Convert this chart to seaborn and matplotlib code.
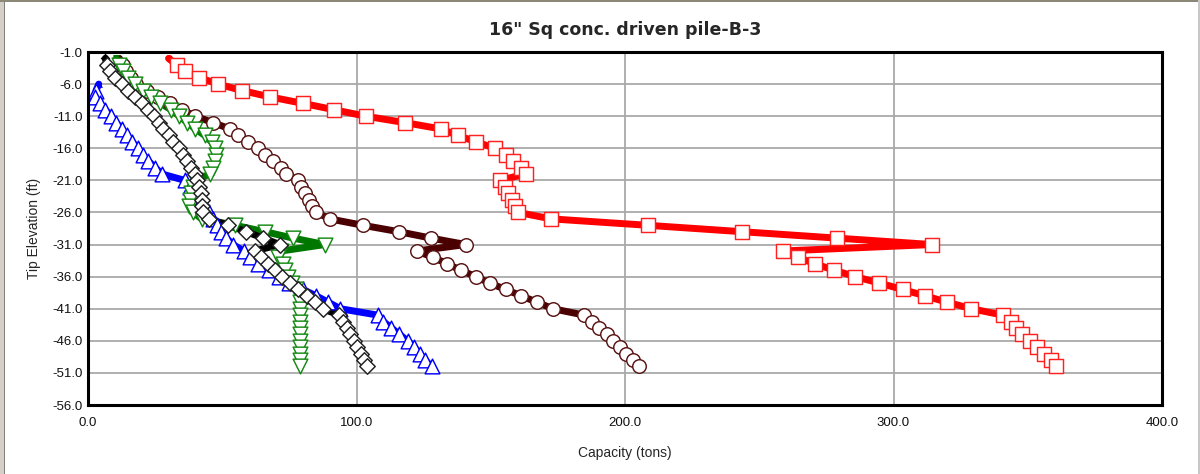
import matplotlib
matplotlib.use("Agg")
import matplotlib.pyplot as plt
import seaborn as sns
import pandas as pd
from matplotlib.patches import Rectangle

# ---------------- data ----------------
elev_ft = [-2, -3, -4, -5, -6, -7, -8, -9, -10, -11, -12, -13, -14, -15, -16,
           -17, -18, -19, -20, -21, -22, -23, -24, -25, -26, -27, -28, -29,
           -30, -31, -32, -33, -34, -35, -36, -37, -38, -39, -40, -41, -42,
           -43, -44, -45, -46, -47, -48, -49, -50]

red_cap = [30, 33, 36, 41.5, 48.5, 57.3, 67.8, 80, 91.7, 103.4, 118, 131.6,
           137.7, 144.6, 151.4, 155.8, 158.3, 161.4, 163, 153.3, 155.2, 156.4,
           158, 159, 160.2, 172.5, 208.4, 243.6, 279, 314.3, 259, 264.6, 270.7,
           277.9, 285.8, 294.7, 303.4, 311.8, 320.1, 329, 340.8, 343.7, 345.5,
           348, 350.9, 353.6, 356.1, 358.6, 360.7]

brown_cap = [11.5, 13, 14, 16, 18, 22, 26, 30.5, 35, 40, 46.5, 53, 55.9, 59.6,
             63.4, 65.9, 69, 71.7, 73.9, 78.2, 79.5, 80.7, 82.4, 83.6, 85.1, 90,
             102.4, 115.8, 127.8, 140.7, 122.5, 128.5, 133.8, 138.8, 144.4,
             149.6, 155.5, 161.4, 167.3, 173.1, 184.9, 187.8, 190.5, 193.2,
             195.5, 198, 200.2, 202.9, 205.4]

green_cap = [10.5, 11.5, 13, 15, 17.5, 20.5, 23.5, 27, 31, 34, 37, 40, 43.5,
             46, 47.3, 47.5, 47.3, 46.6, 45.4, 40, 39, 38.5, 38, 37.7, 39.2,
             42.3, 54.7, 65.9, 76.4, 88.2, 72, 70.8, 72.7, 73.5, 74.5, 76,
             77.6, 78.5, 79, 79, 79, 79, 79, 79, 79, 79, 79, 79, 79]

black_cap = [6.5, 7, 8.2, 10, 12.5, 15, 17.5, 20, 22.5, 24.5, 26.5, 28, 30,
             31.7, 34, 35.5, 37, 38.5, 40, 40.7, 41.5, 42, 42.3, 42.6, 43, 45,
             52.2, 59, 65.2, 71.4, 62.1, 64.6, 67.1, 69.6, 72.4, 75.2, 78.3,
             81.4, 84.5, 87.5, 93.5, 95, 96.3, 97.5, 98.9, 100.2, 101.5, 102.8,
             104]

blue_elev_ft = elev_ft[4:]
blue_cap = [4, 3, 2.5, 4.5, 6.5, 8.5, 10.5, 12.5, 14.5, 16.5, 18.5, 20.5,
            22.5, 25, 27.5, 36, 38, 40, 42, 43.5, 45, 46.5, 48, 49.5, 51.5,
            54, 58, 60.5, 63.5, 67.5, 71, 75, 80, 85, 89.5, 94, 108, 110, 113,
            116, 119, 121.5, 123.5, 125.5, 128]

x_ticks = [0, 100, 200, 300, 400]
y_ticks = [-1, -6, -11, -16, -21, -26, -31, -36, -41, -46, -51, -56]

title = '16" Sq conc. driven pile-B-3'
x_label = "Capacity (tons)"
y_label = "Tip Elevation (ft)"

series = [
    ("red", red_cap, elev_ft, "#ff0000", "#ff2020", "s", 105),
    ("brown", brown_cap, elev_ft, "#4a0000", "#5a1414", "o", 95),
    ("blue", blue_cap, blue_elev_ft, "#0000ff", "#0000ff", "^", 112),
    ("green", green_cap, elev_ft, "#007800", "#158a15", "v", 112),
    ("black", black_cap, elev_ft, "#000000", "#202020", "D", 62),
]

# ---------------- drawing ----------------
sns.set_style("white")
plt.rcParams["font.family"] = ["Liberation Sans", "DejaVu Sans"]

fig = plt.figure(figsize=(12, 4.74), dpi=100)
fig.patch.set_facecolor("white")
ax = fig.add_axes([88 / 1200, 1 - 405 / 474, (1162 - 88) / 1200, (405 - 52) / 474])

for name, cap, elev, col, ecol, mk, msize in series:
    df = pd.DataFrame({"cap": cap, "elev": elev})
    sns.lineplot(data=df, x="cap", y="elev", sort=False, estimator=None,
                 color=col, linewidth=5.0, ax=ax, zorder=3,
                 solid_capstyle="round", solid_joinstyle="round")
    sns.scatterplot(data=df.iloc[:1], x="cap", y="elev", color=col,
                    marker=mk if mk != "s" else "o", s=24, linewidth=0,
                    ax=ax, zorder=4)
    sns.scatterplot(data=df.iloc[1:], x="cap", y="elev", marker=mk, s=msize,
                    facecolor="white", edgecolor=ecol, linewidth=1.05,
                    ax=ax, zorder=4)

ax.set_xlim(0, 400)
ax.set_ylim(-56, -1)
ax.set_xticks(x_ticks)
ax.set_yticks(y_ticks)
ax.set_xticklabels([f"{v:.1f}" for v in x_ticks])
ax.set_yticklabels([f"{v:.1f}" for v in y_ticks])
ax.grid(True, color="#a9a9a9", linewidth=1.3, zorder=0)
ax.set_axisbelow(True)
ax.tick_params(axis="both", length=0, labelsize=9.5, colors="#101010")
ax.tick_params(axis="x", pad=9)
ax.tick_params(axis="y", pad=4)
for sp in ax.spines.values():
    sp.set_visible(True)
    sp.set_color("black")
    sp.set_linewidth(2.2)
    sp.set_zorder(6)

ax.set_xlabel(x_label, fontsize=10, labelpad=12)
ax.set_ylabel(y_label, fontsize=10, labelpad=8)
ax.set_title(title, fontsize=12.5, fontweight="bold",
             family=["DejaVu Sans"], pad=12)

# window frame
fig.patches.append(Rectangle((0, 0), 4 / 1200, 1, transform=fig.transFigure,
                             facecolor="#d4d0c8", edgecolor="none", zorder=0))
fig.patches.append(Rectangle((4 / 1200, 0), 1.2 / 1200, 1, transform=fig.transFigure,
                             facecolor="#808080", edgecolor="none", zorder=0))
fig.patches.append(Rectangle((0, 1 - 2 / 474), 1, 2 / 474, transform=fig.transFigure,
                             facecolor="#8c8878", edgecolor="none", zorder=0))
fig.patches.append(Rectangle((1198 / 1200, 0), 2 / 1200, 1, transform=fig.transFigure,
                             facecolor="#c8c8c8", edgecolor="none", zorder=0))

fig.savefig("out.png", dpi=100)
